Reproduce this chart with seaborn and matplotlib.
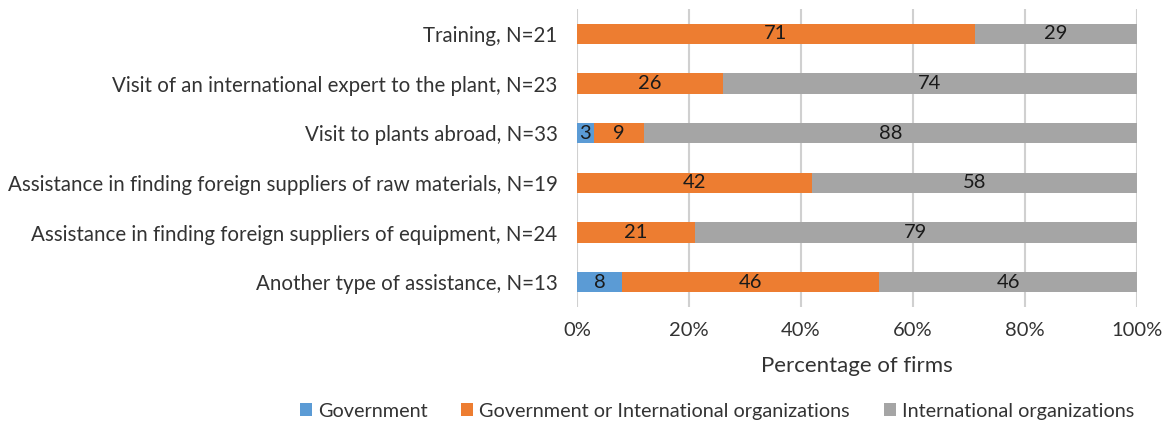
import matplotlib
matplotlib.use("Agg")
import matplotlib.pyplot as plt
import seaborn as sns
import pandas as pd
import numpy as np
from matplotlib.patches import Patch

categories = [
    "Training, N=21",
    "Visit of an international expert to the plant, N=23",
    "Visit to plants abroad, N=33",
    "Assistance in finding foreign suppliers of raw materials, N=19",
    "Assistance in finding foreign suppliers of equipment, N=24",
    "Another type of assistance, N=13",
]
government = [0, 0, 3, 0, 0, 8]
gov_or_intl = [71, 26, 9, 42, 21, 46]
intl_orgs = [29, 74, 88, 58, 79, 46]

series_names = ["Government", "Government or International organizations", "International organizations"]
colors = ["#5B9BD5", "#ED7D31", "#A5A5A5"]
xticks = [0, 20, 40, 60, 80, 100]
xtick_labels = ["0%", "20%", "40%", "60%", "80%", "100%"]

sns.set_theme(style="white")
plt.rcParams["font.family"] = ["Lato", "DejaVu Sans"]
text_color = "#333333"

df = pd.DataFrame({
    "category": categories,
    "gov": government,
    "both": gov_or_intl,
    "intl": intl_orgs,
})
df["cum_gov"] = df["gov"]
df["cum_both"] = df["gov"] + df["both"]
df["cum_intl"] = df["cum_both"] + df["intl"]

fig = plt.figure(figsize=(11.68, 4.23), dpi=100)
ax = fig.add_axes([577 / 1168, 1 - 307 / 423, (1137 - 577) / 1168, (307 - 9) / 423])

# Stacked bars drawn as overlapping cumulative layers, largest first
for col, color in zip(["cum_intl", "cum_both", "cum_gov"], colors[::-1]):
    sns.barplot(data=df, x=col, y="category", orient="h", color=color,
                width=0.41, saturation=1, ax=ax, linewidth=0)

# Segment value labels
for i, row in df.iterrows():
    starts = [0, row["cum_gov"], row["cum_both"]]
    vals = [row["gov"], row["both"], row["intl"]]
    for s, v in zip(starts, vals):
        if v > 0:
            ax.text(s + v / 2, i, f"{v}", ha="center", va="center",
                    fontsize=14.5, color="#1a1a1a")

ax.set_xlim(0, 100)
ax.set_ylim(5.5, -0.5)
ax.set_xticks(xticks)
ax.set_xticklabels(xtick_labels, fontsize=14.5, color=text_color)
ax.tick_params(axis="y", labelsize=14.8, labelcolor=text_color, length=0, pad=14)
ax.tick_params(axis="x", length=0, pad=11)
ax.set_ylabel("")
ax.set_xlabel("Percentage of firms", fontsize=16, color=text_color, labelpad=12)
ax.xaxis.grid(True, color="#D0D0D0", linewidth=1.5)
ax.set_axisbelow(True)
for sp in ax.spines.values():
    sp.set_visible(False)

handles = [Patch(facecolor=c, edgecolor="none", label=n) for c, n in zip(colors, series_names)]
leg = fig.legend(handles=handles, loc="center", bbox_to_anchor=(717 / 1168, 1 - 411 / 423),
                 ncol=3, frameon=False, fontsize=14.3, handlelength=0.6, handleheight=0.6,
                 handletextpad=0.3, columnspacing=1.7)
for t in leg.get_texts():
    t.set_color(text_color)

fig.savefig("out.png", dpi=100)
